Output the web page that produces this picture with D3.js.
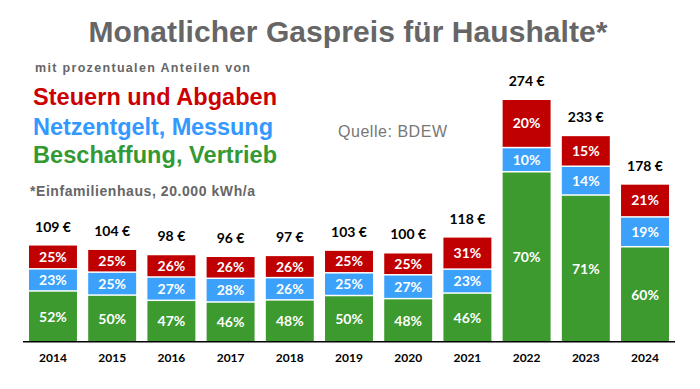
<!DOCTYPE html>
<html>
<head>
<meta charset="utf-8">
<script src="https://cdn.jsdelivr.net/npm/d3@7"></script>
<style>
  body { margin: 0; background: #fff; }
  svg { display: block; }
</style>
</head>
<body>
<div id="chart"></div>
<script>
// data
var years = ["2014", "2015", "2016", "2017", "2018", "2019", "2020", "2021", "2022", "2023", "2024"];
var totals = [109, 104, 98, 96, 97, 103, 100, 118, 274, 233, 178];
// shares in % (bottom -> top)
var beschaffung = [52, 50, 47, 46, 48, 50, 48, 46, 70, 71, 60];
var netzentgelt = [23, 25, 27, 28, 26, 25, 27, 23, 10, 14, 19];
var steuern = [25, 25, 26, 26, 26, 25, 25, 31, 20, 15, 21];

var seriesNames = ["Beschaffung, Vertrieb", "Netzentgelt, Messung", "Steuern und Abgaben"];
var colors = ["#3c9a2e", "#3ba1fb", "#c00000"];
var textColors = ["#339933", "#3399ff", "#cc0000"];

var svgWidth = 700;
var svgHeight = 389;

var svg = d3.select("#chart")
  .append("svg")
  .attr("width", svgWidth)
  .attr("height", svgHeight);

// scales
var xScale = d3.scaleBand()
  .domain(years)
  .range([29, 669])
  .paddingInner(0.19)
  .paddingOuter(0);

var yScale = d3.scaleLinear()
  .domain([0, 274])
  .range([341.7, 100]);

// build stacked table in euro
var table = years.map(function(y, i) {
  return {
    year: y,
    total: totals[i],
    pcts: [beschaffung[i], netzentgelt[i], steuern[i]]
  };
});

var stack = d3.stack()
  .keys([0, 1, 2])
  .value(function(d, k) { return d.total * d.pcts[k] / 100; });

var stacked = stack(table);

var font = "Lato, 'Open Sans', sans-serif";
var arial = "'Liberation Sans', Arial, sans-serif";

// segments
var layers = svg.append("g").selectAll("g")
  .data(stacked)
  .enter()
  .append("g")
  .attr("fill", function(d, i) { return colors[i]; });

layers.selectAll("rect")
  .data(function(d, i) { return d.map(function(p) { return { p: p, k: i }; }); })
  .enter()
  .append("rect")
  .attr("x", function(d) { return xScale(d.p.data.year); })
  .attr("width", xScale.bandwidth())
  .attr("y", function(d) { return yScale(d.p[1]); })
  .attr("height", function(d) {
    var h = yScale(d.p[0]) - yScale(d.p[1]);
    return d.k > 0 ? h - 1.5 : h;
  });

// percent labels
layers.selectAll("text")
  .data(function(d, i) { return d.map(function(p) { return { p: p, k: i }; }); })
  .enter()
  .append("text")
  .attr("x", function(d) { return xScale(d.p.data.year) + xScale.bandwidth() / 2; })
  .attr("y", function(d) {
    var top = yScale(d.p[1]);
    var bot = yScale(d.p[0]) - (d.k > 0 ? 1.5 : 0);
    return (top + bot) / 2 + 5;
  })
  .attr("text-anchor", "middle")
  .attr("fill", "#fff")
  .style("font-family", font)
  .style("font-weight", "bold")
  .style("font-size", "14px")
  .text(function(d) { return d.p.data.pcts[d.k] + "%"; });

// total labels
svg.append("g").selectAll("text")
  .data(table)
  .enter()
  .append("text")
  .attr("x", function(d) { return xScale(d.year) + xScale.bandwidth() / 2; })
  .attr("y", function(d) { return yScale(d.total) - 14; })
  .attr("text-anchor", "middle")
  .attr("fill", "#000")
  .style("font-family", font)
  .style("font-weight", "bold")
  .style("font-size", "14px")
  .text(function(d) { return d.total + " €"; });

// x axis
var xAxis = svg.append("g")
  .attr("transform", "translate(0, 341.7)")
  .call(d3.axisBottom(xScale).tickSize(0).tickPadding(12));

xAxis.select(".domain").remove();
xAxis.append("line")
  .attr("x1", 23).attr("x2", 675)
  .attr("y1", 0).attr("y2", 0)
  .attr("stroke", "#000")
  .attr("stroke-width", 1.5);

xAxis.selectAll(".tick text")
  .attr("fill", "#000")
  .style("font-family", font)
  .style("font-weight", "bold")
  .style("font-size", "12px");

// title and notes
svg.append("text")
  .attr("x", 348)
  .attr("y", 42)
  .attr("text-anchor", "middle")
  .attr("fill", "#666")
  .attr("textLength", 519)
  .style("font-family", arial)
  .style("font-weight", "bold")
  .style("font-size", "30px")
  .text("Monatlicher Gaspreis für Haushalte*");

svg.append("text")
  .attr("x", 35)
  .attr("y", 72)
  .attr("fill", "#666")
  .attr("textLength", 215)
  .style("font-family", arial)
  .style("font-weight", "bold")
  .style("font-size", "12.5px")
  .text("mit prozentualen Anteilen von");

// legend as coloured text lines
var legendY = [105, 135, 163];
var legendW = [244, 240, 244];
svg.append("g").selectAll("text")
  .data([2, 1, 0])
  .enter()
  .append("text")
  .attr("x", 33)
  .attr("y", function(d, i) { return legendY[i]; })
  .attr("textLength", function(d, i) { return legendW[i]; })
  .attr("fill", function(d) { return textColors[d]; })
  .style("font-family", arial)
  .style("font-weight", "bold")
  .style("font-size", "23.5px")
  .text(function(d) { return seriesNames[d]; });

svg.append("text")
  .attr("x", 30)
  .attr("y", 196)
  .attr("fill", "#666")
  .attr("textLength", 225)
  .style("font-family", arial)
  .style("font-weight", "bold")
  .style("font-size", "14px")
  .text("*Einfamilienhaus, 20.000 kWh/a");

svg.append("text")
  .attr("x", 338)
  .attr("y", 137)
  .attr("fill", "#777")
  .attr("textLength", 109)
  .style("font-family", arial)
  .style("font-size", "16px")
  .text("Quelle: BDEW");
</script>
</body>
</html>
